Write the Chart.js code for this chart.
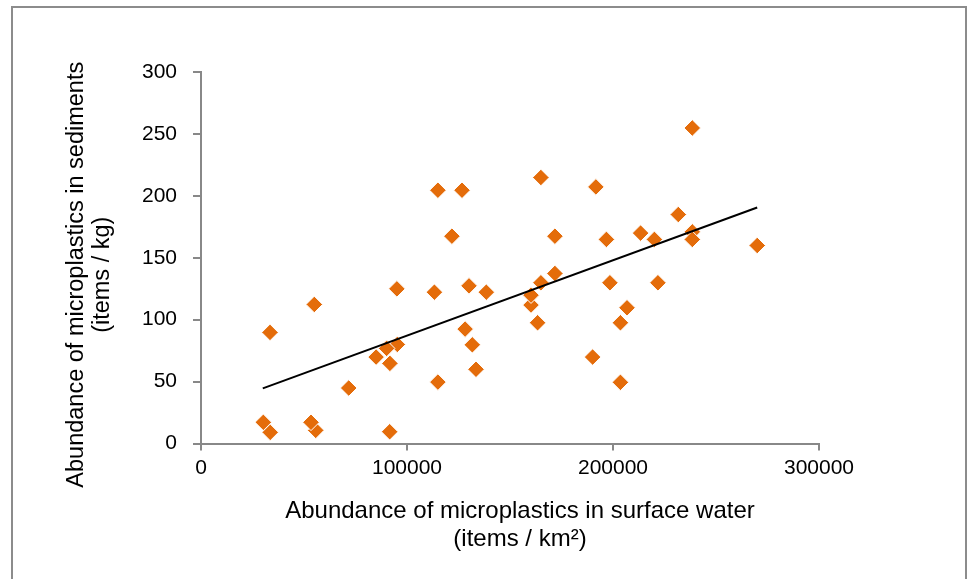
<!DOCTYPE html>
<html>
<head>
<meta charset="utf-8">
<script src="https://cdn.jsdelivr.net/npm/chart.js@4.4.1/dist/chart.umd.min.js"></script>
<style>
  html, body { margin: 0; padding: 0; background: #fff; }
  #wrap { position: relative; width: 970px; height: 579px; overflow: hidden; }
  #frame { position: absolute; left: 11px; top: 6px; right: 3px; bottom: -10px; border: 2px solid #8c8c8c; }
  #chart { position: absolute; left: 0; top: 0; }
</style>
</head>
<body>
<div id="wrap">
  <div id="frame"></div>
  <canvas id="chart" width="970" height="579"></canvas>
</div>
<script>
// ---- Datos ----
const waterX = [55700, 30250, 33600, 33500, 53400, 55000, 71700, 91600, 85000, 95300,
  90100, 91700, 95100, 113300, 115000, 128200, 131700, 133500, 130100, 138500,
  115000, 126700, 121800, 165000, 191700, 238500, 171800, 196800, 213400, 220100,
  231700, 238500, 238500, 270000, 160200, 160200, 165000, 171800, 163400, 198500,
  221800, 206800, 203600, 190100, 203600];
const sedimentY = [10.6, 17.1, 9, 89.7, 17.1, 112.3, 44.8, 9.5, 69.8, 80,
  76.8, 64.7, 124.9, 122.2, 49.6, 92.4, 79.7, 59.9, 127.3, 122.2,
  204.5, 204.5, 167.4, 214.8, 207.2, 254.8, 167.4, 164.8, 169.9, 164.8,
  184.9, 170.9, 164.8, 159.9, 111.8, 119.8, 129.8, 137.3, 97.5, 129.8,
  129.8, 109.6, 97.5, 69.8, 49.4];

// línea de tendencia (extremos)
const trendX = [30000, 270000];
const trendY = [44.5, 190.6];

const xTicks = [0, 100000, 200000, 300000];
const yTicks = [0, 50, 100, 150, 200, 250, 300];

const xTitle = ["Abundance of microplastics in surface water", "(items / km²)"];
const yTitle = ["Abundance of microplastics in sediments", "(items / kg)"];

const FONT = "'Liberation Sans', Arial, sans-serif";
const AXIS_GRAY = "#888888";

// títulos de ejes dibujados a mano (centrados como en Excel)
const axisTitles = {
  id: "axisTitles",
  afterDraw(chart) {
    const { ctx, chartArea } = chart;
    ctx.save();
    ctx.fillStyle = "#000";
    ctx.textAlign = "center";
    ctx.textBaseline = "middle";
    ctx.font = "24px " + FONT;
    const cx = (chartArea.left + chartArea.right) / 2 + 10;
    ctx.fillText(xTitle[0], cx, chartArea.bottom + 68);
    ctx.fillText(xTitle[1], cx, chartArea.bottom + 96);

    ctx.font = "23.5px " + FONT;
    const cy = (chartArea.top + chartArea.bottom) / 2 + 17;
    ctx.translate(chartArea.left - 124, cy);
    ctx.rotate(-Math.PI / 2);
    ctx.fillText(yTitle[0], 0, 0);
    ctx.fillText(yTitle[1], 0, 26);
    ctx.restore();
  }
};

const ctx = document.getElementById("chart").getContext("2d");
new Chart(ctx, {
  type: "scatter",
  data: {
    datasets: [
      {
        label: "Trend",
        data: trendX.map((x, i) => ({ x, y: trendY[i] })),
        showLine: true,
        borderColor: "#000",
        borderWidth: 2,
        pointRadius: 0,
        fill: false
      },
      {
        label: "Samples",
        data: waterX.map((x, i) => ({ x, y: sedimentY[i] })),
        pointStyle: "rectRot",
        pointRadius: 8.3,
        pointBackgroundColor: "#E46C0A",
        pointBorderColor: "#ffffff",
        pointBorderWidth: 1
      }
    ]
  },
  options: {
    responsive: false,
    animation: false,
    layout: { padding: { left: 0, top: 72, right: 151, bottom: 0 } },
    plugins: { legend: { display: false }, tooltip: { enabled: false } },
    scales: {
      x: {
        type: "linear",
        min: 0,
        max: 300000,
        afterFit: (s) => { s.height = 135.5; },
        afterBuildTicks: (s) => { s.ticks = xTicks.map(v => ({ value: v })); },
        grid: { drawOnChartArea: false, drawTicks: true, tickLength: 7, color: AXIS_GRAY, lineWidth: 2 },
        border: { color: AXIS_GRAY, width: 2 },
        ticks: { color: "#000", font: { family: FONT, size: 21 }, padding: 5, maxRotation: 0,
                 callback: (v) => String(v) }
      },
      y: {
        type: "linear",
        min: 0,
        max: 300,
        afterFit: (s) => { s.width = 201; },
        afterBuildTicks: (s) => { s.ticks = yTicks.map(v => ({ value: v })); },
        grid: { drawOnChartArea: false, drawTicks: true, tickLength: 8, color: AXIS_GRAY, lineWidth: 2 },
        border: { color: AXIS_GRAY, width: 2 },
        ticks: { color: "#000", font: { family: FONT, size: 21 }, padding: 16 }
      }
    }
  },
  plugins: [axisTitles]
});
</script>
</body>
</html>
